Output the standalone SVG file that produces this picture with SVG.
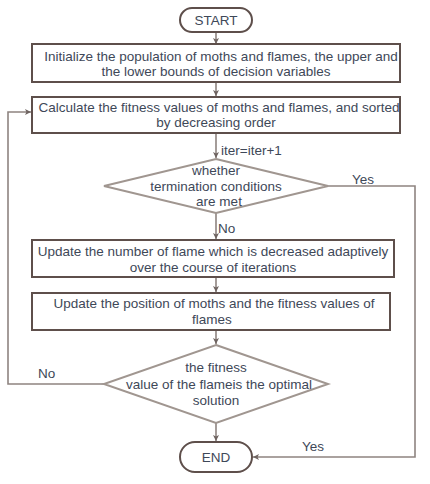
<svg xmlns="http://www.w3.org/2000/svg" width="430" height="484" viewBox="0 0 430 484">
<defs>
<marker id="ah" markerWidth="8" markerHeight="8" refX="6" refY="3" orient="auto" markerUnits="userSpaceOnUse">
<path d="M0,0 L6,3 L0,6 L1.5,3 Z" fill="#6e6360"/>
</marker>
</defs>
<style>
.box{fill:#fff;stroke:#5e4f4b;stroke-width:2}
.term{fill:#fff;stroke:#5e4f4b;stroke-width:2}
.dia{fill:#fff;stroke:#a09690;stroke-width:2}
.t{font-family:"Liberation Sans",Arial,sans-serif;font-size:13.5px;fill:#3e4858;text-anchor:middle}
.l{font-family:"Liberation Sans",Arial,sans-serif;font-size:13.5px;fill:#3e4858}
.c{fill:none;stroke:#8e8480;stroke-width:1.6}
</style>
<rect width="430" height="484" fill="#fff"/>
<g id="connectors">
<path class="c" d="M216,32 V44" marker-end="url(#ah)"/>
<path class="c" d="M216,82 V96" marker-end="url(#ah)"/>
<path class="c" d="M216,133 V158" marker-end="url(#ah)"/>
<path class="c" d="M216,213 V239" marker-end="url(#ah)"/>
<path class="c" d="M216,277 V292" marker-end="url(#ah)"/>
<path class="c" d="M216,330 V344" marker-end="url(#ah)"/>
<path class="c" d="M216,423 V441" marker-end="url(#ah)"/>
<path class="c" d="M328,186 H415 V457 H253" marker-end="url(#ah)"/>
<path class="c" d="M104,384 H8 V112 H31" marker-end="url(#ah)"/>
<text class="l" x="221" y="155">iter=iter+1</text>
<text class="l" x="218" y="233">No</text>
<text class="l" x="352" y="184">Yes</text>
<text class="l" x="302" y="451">Yes</text>
<text class="l" x="38" y="378">No</text>
</g>
<g id="start">
<rect class="term" x="180" y="8" width="72" height="24" rx="12"/>
<text class="t" x="216" y="25">START</text>
</g>
<g id="init">
<rect class="box" x="32" y="44" width="368" height="38"/>
<text class="t" x="221" y="61">Initialize the population of moths and flames, the upper and</text>
<text class="t" x="216" y="76">the lower bounds of decision variables</text>
</g>
<g id="calc">
<rect class="box" x="32" y="97" width="368" height="36"/>
<text class="t" x="219" y="112">Calculate the fitness values of moths and flames, and sorted</text>
<text class="t" x="216" y="127">by decreasing order</text>
</g>
<g id="cond1">
<polygon class="dia" points="216,159 328,186 216,213 104,186"/>
<text class="t" x="216" y="175">whether</text>
<text class="t" x="216" y="191">termination conditions</text>
<text class="t" x="219" y="206">are met</text>
</g>
<g id="updflame">
<rect class="box" x="32" y="240" width="362" height="37"/>
<text class="t" x="213" y="256">Update the number of flame which is decreased adaptively</text>
<text class="t" x="213" y="272">over the course of iterations</text>
</g>
<g id="updpos">
<rect class="box" x="32" y="293" width="358" height="37"/>
<text class="t" x="214" y="308">Update the position of moths and the fitness values of</text>
<text class="t" x="212" y="324">flames</text>
</g>
<g id="cond2">
<polygon class="dia" points="216,345 328,384 216,423 104,384"/>
<text class="t" x="216" y="372">the fitness</text>
<text class="t" x="219" y="389">value of the flameis the optimal</text>
<text class="t" x="216" y="405">solution</text>
</g>
<g id="end">
<rect class="term" x="180" y="442" width="72" height="30" rx="15"/>
<text class="t" x="216" y="462">END</text>
</g>
</svg>
